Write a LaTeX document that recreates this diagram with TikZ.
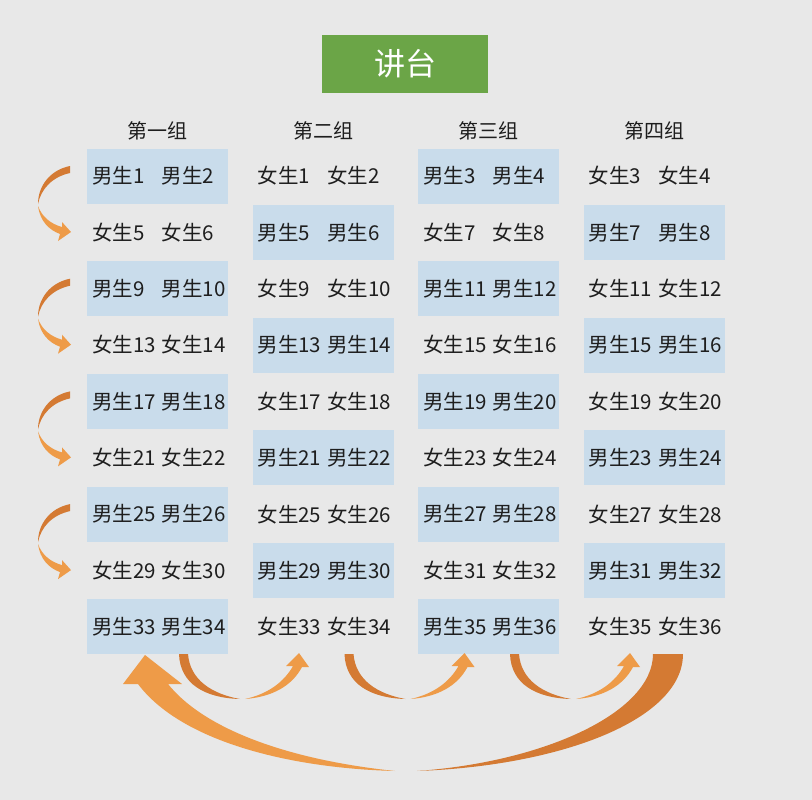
\documentclass[tikz,border=0pt]{standalone}
\usepackage{fontspec}
\setmainfont{Noto Sans CJK SC}
\definecolor{bg}{HTML}{E8E8E8}
\definecolor{cellblue}{HTML}{C9DCEB}
\definecolor{podium}{HTML}{6BA547}
\definecolor{txt}{HTML}{1E1E1E}
\definecolor{ordark}{HTML}{D47A33}
\definecolor{orlight}{HTML}{EE9B48}
\tikzset{
  cellbox/.style={rectangle, minimum width=141pt, minimum height=55pt, inner sep=0pt, draw=none},
  celltxt/.style={anchor=west, inner sep=0pt, text=txt, font=\fontsize{20.5}{24}\selectfont},
  head/.style={inner sep=0pt, text=txt, font=\fontsize{20}{24}\selectfont},
  darkarrow/.style={fill=ordark, draw=none},
  lightarrow/.style={fill=orlight, draw=none},
}
\begin{document}
\begin{tikzpicture}[x=1pt,y=-1pt]
\useasboundingbox (0,0) rectangle (812,800);
\fill[bg] (0,0) rectangle (812,800);
% podium
\node[rectangle, fill=podium, minimum width=166pt, minimum height=58pt, inner sep=0pt,
      text=white, font=\fontsize{31}{36}\selectfont] (podium) at (405,64) {讲台};
% headers
\node[head] (h1) at (157.5,131) {第一组};
\node[head] (h2) at (323,131) {第二组};
\node[head] (h3) at (488.5,131) {第三组};
\node[head] (h4) at (654,131) {第四组};
% cells
\foreach \c in {1,...,4}{
  \foreach \r in {1,...,9}{
    \pgfmathtruncatemacro\p{div(\r-1,2)}
    \pgfmathtruncatemacro\e{1-mod(\r,2)}
    \pgfmathtruncatemacro\g{\c>2}
    \pgfmathtruncatemacro\n{8*\p+1+4*\e+2*\g}
    \pgfmathtruncatemacro\m{\n+1}
    \pgfmathtruncatemacro\boy{mod(\c+\r+1,2)}
    \pgfmathsetmacro\cx{87+165.5*(\c-1)+70.5}
    \pgfmathsetmacro\cy{176+56.35*(\r-1)}
    \ifnum\boy=1 \def\cf{cellblue}\def\lab{男生}\else\def\cf{none}\def\lab{女生}\fi
    \node[cellbox, fill=\cf] (cell-\c-\r) at (\cx,\cy) {};
    \node[celltxt] (txt-\c-\r) at ([xshift=5pt]cell-\c-\r.west) {\makebox[70pt][l]{\lab\n}\lab\m};
  }
}
% left curved arrows
\foreach \i in {0,...,3}{
  \begin{scope}[shift={(0,112.7*\i)}]
    \path[darkarrow] (70,166) .. controls (50,170) and (38,186) .. (38,204)
      .. controls (41,189) and (52,177) .. (70,173) -- cycle;
    \path[lightarrow] (38,206) .. controls (40,221) and (49,230) .. (60,234)
      -- (58,241) -- (71,232) -- (62,222) -- (62,227)
      .. controls (51,224) and (42,217) .. (38,206) -- cycle;
  \end{scope}
}
% bottom small arrows
\foreach \i in {0,1,2}{
  \begin{scope}[shift={(165.5*\i,0)}]
    \path[darkarrow] (179,654) .. controls (180,684) and (205,698) .. (240,699)
      .. controls (212,694) and (190,680) .. (188,654) -- cycle;
    \path[lightarrow] (245,699) .. controls (272,697) and (292,686) .. (302,667)
      -- (309,667) -- (299,653) -- (286,666) -- (293,666)
      .. controls (284,682) and (268,694) .. (245,699) -- cycle;
  \end{scope}
}
% big return arrow
\path[darkarrow] (653,654) -- (683,654) .. controls (683,720) and (560,766) .. (417,771)
  .. controls (545,762) and (653,712) .. (653,654) -- cycle;
\path[lightarrow] (395,771) .. controls (285,768) and (180,740) .. (138,684)
  -- (123,684) -- (145,655) -- (182,684) -- (168,684)
  .. controls (205,730) and (290,760) .. (395,771) -- cycle;
\end{tikzpicture}
\end{document}
